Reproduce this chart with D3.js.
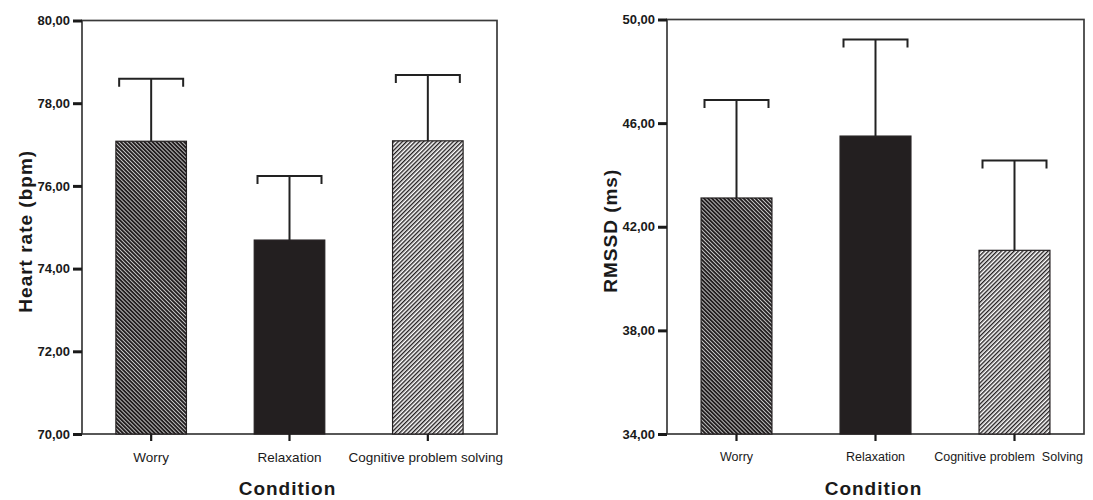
<!DOCTYPE html>
<html>
<head>
<meta charset="utf-8">
<script src="https://cdn.jsdelivr.net/npm/d3@7"></script>
<style>
  body { margin: 0; background: #fff; }
  svg { display: block; font-family: "Liberation Sans", Arial, sans-serif; }
  .tickLabel { font-size: 13px; font-weight: bold; fill: #1a1a1a; }
  .catLabel { fill: #1a1a1a; white-space: pre; }
  .axesLabel { font-size: 19px; font-weight: bold; fill: #1a1a1a; letter-spacing: 1px; }
</style>
</head>
<body>
<svg id="chart" width="1093" height="500"></svg>
<script>
// chart values
const hrConditions = ["Worry", "Relaxation", "Cognitive problem solving"];
const rmssdConditions = ["Worry", "Relaxation", "Cognitive problem  Solving"];
const hrMeans = [77.08, 74.69, 77.09];
const hrUpper = [78.59, 76.24, 78.68];
const rmssdMeans = [43.11, 45.50, 41.09];
const rmssdUpper = [46.89, 49.23, 44.56];
const hrTicks = [70, 72, 74, 76, 78, 80];
const rmssdTicks = [34, 38, 42, 46, 50];
const barFills = ["url(#hatchDark)", "#231f20", "url(#hatchLight)"];

const svg = d3.select("svg#chart");

/* hatch patterns */
const defs = svg.append("defs");
let dark = defs.append("pattern")
    .attr("id", "hatchDark")
    .attr("patternUnits", "userSpaceOnUse")
    .attr("width", 2.8).attr("height", 10)
    .attr("patternTransform", "rotate(-45)");
dark.append("rect").attr("width", 2.8).attr("height", 10).attr("fill", "#231f20");
dark.append("rect").attr("x", 0).attr("width", 0.8).attr("height", 10).attr("fill", "#e0e0e0");

let light = defs.append("pattern")
    .attr("id", "hatchLight")
    .attr("patternUnits", "userSpaceOnUse")
    .attr("width", 3).attr("height", 10)
    .attr("patternTransform", "rotate(45)");
light.append("rect").attr("width", 3).attr("height", 10).attr("fill", "#ffffff");
light.append("rect").attr("x", 0).attr("width", 1.4).attr("height", 10).attr("fill", "#231f20");

const fmt = v => d3.format(".2f")(v).replace(".", ",");

function drawPanel(opts) {
    const box = opts.box;
    const g = svg.append("g");

    let x = d3.scaleBand()
        .domain(opts.categories)
        .range([box.left, box.right])
        .paddingInner(0.49)
        .paddingOuter(0.245);

    let y = d3.scaleLinear()
        .domain(opts.domain)
        .range([box.bottom, box.top]);

    /* frame */
    g.append("rect")
        .attr("x", box.left).attr("y", box.top)
        .attr("width", box.right - box.left)
        .attr("height", box.bottom - box.top)
        .attr("fill", "none")
        .attr("stroke", "#3a3a3a")
        .attr("stroke-width", 1.7);

    /* y axis */
    let yAxis = g.append("g")
        .attr("transform", "translate(" + box.left + ",0)")
        .call(d3.axisLeft(y).tickValues(opts.ticks).tickFormat(fmt).tickSize(9).tickPadding(3));
    yAxis.select("path.domain").remove();
    yAxis.selectAll(".tick line").attr("stroke", "#1a1a1a").attr("stroke-width", 3);
    yAxis.selectAll(".tick text").attr("class", "tickLabel").attr("fill", null)
        .style("font-family", "Liberation Sans, Arial, sans-serif");

    /* x axis */
    let xAxis = g.append("g")
        .attr("transform", "translate(0," + box.bottom + ")")
        .call(d3.axisBottom(x).tickSize(7).tickPadding(11));
    xAxis.select("path.domain").remove();
    xAxis.selectAll(".tick line").attr("stroke", "#1a1a1a").attr("stroke-width", 2.2);
    xAxis.selectAll(".tick text").attr("class", "catLabel").attr("fill", null)
        .style("font-family", "Liberation Sans, Arial, sans-serif")
        .style("font-size", opts.catFont)
        .attr("dx", (d, i) => i === opts.categories.length - 1 ? opts.lastLabelShift : 0);

    /* bars */
    g.selectAll("rect.bar")
        .data(opts.means)
        .join("rect")
        .attr("class", "bar")
        .attr("x", (d, i) => x(opts.categories[i]))
        .attr("y", d => y(d))
        .attr("width", x.bandwidth())
        .attr("height", d => box.bottom - y(d))
        .attr("fill", (d, i) => barFills[i])
        .attr("stroke", "#231f20")
        .attr("stroke-width", 1.2);

    /* error bars */
    const capHalf = 32, capDrop = 8;
    opts.means.forEach((m, i) => {
        let cx = x(opts.categories[i]) + x.bandwidth() / 2;
        let top = y(opts.upper[i]);
        g.append("line")
            .attr("x1", cx).attr("x2", cx)
            .attr("y1", y(m)).attr("y2", top)
            .attr("stroke", "#222").attr("stroke-width", 2);
        g.append("path")
            .attr("d", "M" + (cx - capHalf) + "," + (top + capDrop) + "V" + top +
                "H" + (cx + capHalf) + "V" + (top + capDrop))
            .attr("fill", "none")
            .attr("stroke", "#222").attr("stroke-width", 2);
    });

    /* axes labels */
    svg.append("text")
        .attr("class", "axesLabel")
        .attr("transform", "translate(" + opts.yTitleX + "," + ((box.top + box.bottom) / 2 + 4) + ")rotate(270)")
        .style("text-anchor", "middle")
        .text(opts.yTitle);
    svg.append("text")
        .attr("class", "axesLabel")
        .attr("x", (box.left + box.right) / 2 - 2)
        .attr("y", 495)
        .style("text-anchor", "middle")
        .text("Condition");
}

drawPanel({
    box: { left: 82, right: 497, top: 20.5, bottom: 434 },
    categories: hrConditions,
    means: hrMeans,
    upper: hrUpper,
    domain: [70, 80],
    ticks: hrTicks,
    yTitle: "Heart rate (bpm)",
    yTitleX: 32,
    catFont: "13.5px",
    lastLabelShift: -2
});

drawPanel({
    box: { left: 667, right: 1084, top: 19.5, bottom: 434 },
    categories: rmssdConditions,
    means: rmssdMeans,
    upper: rmssdUpper,
    domain: [34, 50],
    ticks: rmssdTicks,
    yTitle: "RMSSD (ms)",
    yTitleX: 617,
    catFont: "12.5px",
    lastLabelShift: -6
});
</script>
</body>
</html>
